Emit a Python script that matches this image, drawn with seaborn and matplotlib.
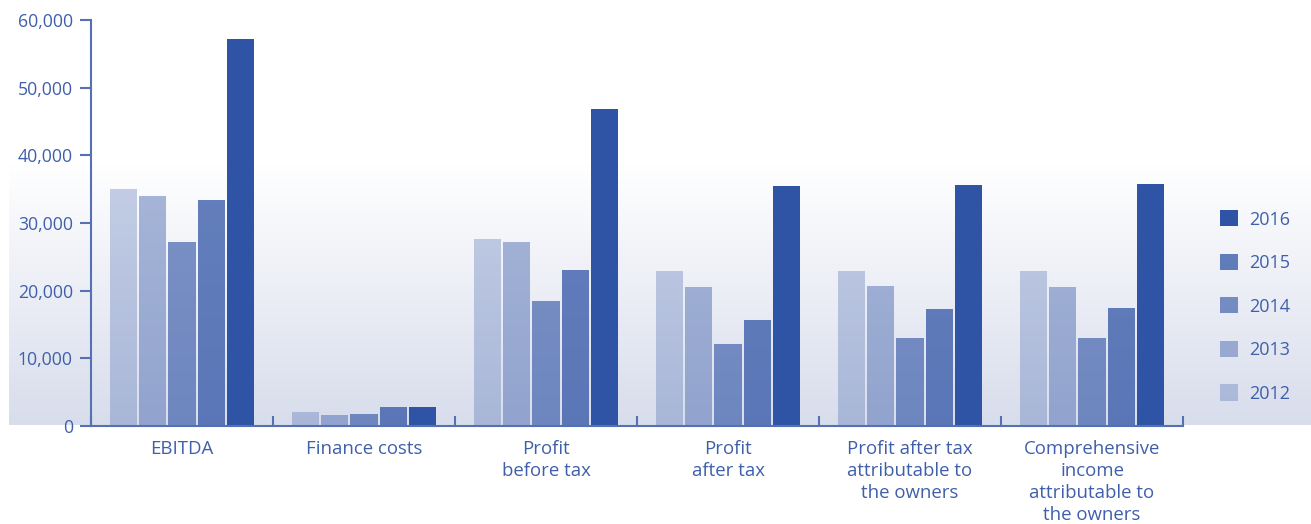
import numpy as np
import pandas as pd
import matplotlib
matplotlib.use("Agg")
import matplotlib.pyplot as plt
import seaborn as sns
from matplotlib.colors import LinearSegmentedColormap
from matplotlib.patches import Patch
from matplotlib.ticker import FuncFormatter, FixedLocator

# ---- data -------------------------------------------------------------
categories = [
    "EBITDA",
    "Finance costs",
    "Profit\nbefore tax",
    "Profit\nafter tax",
    "Profit after tax\nattributable to\nthe owners",
    "Comprehensive\nincome\nattributable to\nthe owners",
]
years = ["2012", "2013", "2014", "2015", "2016"]
v2012 = [35000, 2050, 27600, 22900, 22900, 22900]
v2013 = [34000, 1600, 27200, 20500, 20700, 20500]
v2014 = [27200, 1800, 18500, 12100, 13000, 13000]
v2015 = [33400, 2800, 23000, 15700, 17300, 17400]
v2016 = [57200, 2800, 46850, 35450, 35600, 35800]
y_ticks = [0, 10000, 20000, 30000, 40000, 50000, 60000]

series = {"2012": v2012, "2013": v2013, "2014": v2014, "2015": v2015, "2016": v2016}
df = pd.DataFrame(
    [(c, y, series[y][i]) for y in years for i, c in enumerate(categories)],
    columns=["category", "year", "value"],
)

# ---- style ------------------------------------------------------------
base_blue = "#3054a5"
shade_alpha = {"2012": 0.28, "2013": 0.42, "2014": 0.63, "2015": 0.75, "2016": 1.0}
axis_col = "#5571b4"
text_col = "#3f5fab"

sns.set_theme(style="ticks")
plt.rcParams["font.family"] = ["Open Sans", "DejaVu Sans"]

W, H = 1311, 524
fig = plt.figure(figsize=(W / 100, H / 100), dpi=100)
fig.patch.set_facecolor("white")

# soft band behind the lower part of the plot
band = fig.add_axes([9 / W, 99 / H, (W - 9) / W, 262 / H], zorder=0)
grad = np.linspace(0, 1, 256).reshape(-1, 1)
band_cmap = LinearSegmentedColormap.from_list("band", ["#ffffff", "#d8ddec"])
band.imshow(grad, aspect="auto", cmap=band_cmap, extent=[0, 1, 0, 1], origin="upper")
band.axis("off")

ax = fig.add_axes([91 / W, 98 / H, 1092 / W, 406 / H], zorder=1)
ax.patch.set_alpha(0)

sns.barplot(
    data=df, x="category", y="value", hue="year",
    order=categories, hue_order=years,
    palette={y: base_blue for y in years},
    width=0.8, gap=0.07, saturation=1, linewidth=0,
    legend=False, ax=ax,
)
for cont, yr in zip(ax.containers, years):
    for bar in cont:
        bar.set_alpha(shade_alpha[yr])

ax.set_xlim(-0.5, len(categories) - 0.5)
ax.set_ylim(0, 60000)
ax.set_yticks(y_ticks)
ax.yaxis.set_major_formatter(FuncFormatter(lambda v, _: f"{int(v):,}"))
ax.set_xlabel("")
ax.set_ylabel("")

for side in ("top", "right"):
    ax.spines[side].set_visible(False)
for side in ("left", "bottom"):
    ax.spines[side].set_color(axis_col)
    ax.spines[side].set_linewidth(1.5)

ax.tick_params(axis="y", direction="out", length=8, width=1.5, color=axis_col,
               pad=5, labelsize=12.7, labelcolor=text_col)
ax.tick_params(axis="x", which="major", length=0, pad=10,
               labelsize=13.4, labelcolor=text_col)
ax.xaxis.set_minor_locator(FixedLocator(np.arange(-0.5, len(categories), 1.0)))
ax.tick_params(axis="x", which="minor", direction="in", length=7, width=1.5,
               color=axis_col)
for lab in ax.get_xticklabels():
    lab.set_linespacing(1.3)
    lab.set_verticalalignment("top")

handles = [Patch(facecolor=base_blue, alpha=shade_alpha[y], linewidth=0) for y in years[::-1]]
fig.legend(
    handles, years[::-1], loc="upper left",
    bbox_to_anchor=(1204 / W, 1 - 194 / H), frameon=False,
    handlelength=1.0, handleheight=1.0, handletextpad=0.6,
    labelspacing=1.4, fontsize=13, labelcolor=text_col, borderpad=0.4,
)

fig.savefig("out.png", dpi=100, facecolor="white")
